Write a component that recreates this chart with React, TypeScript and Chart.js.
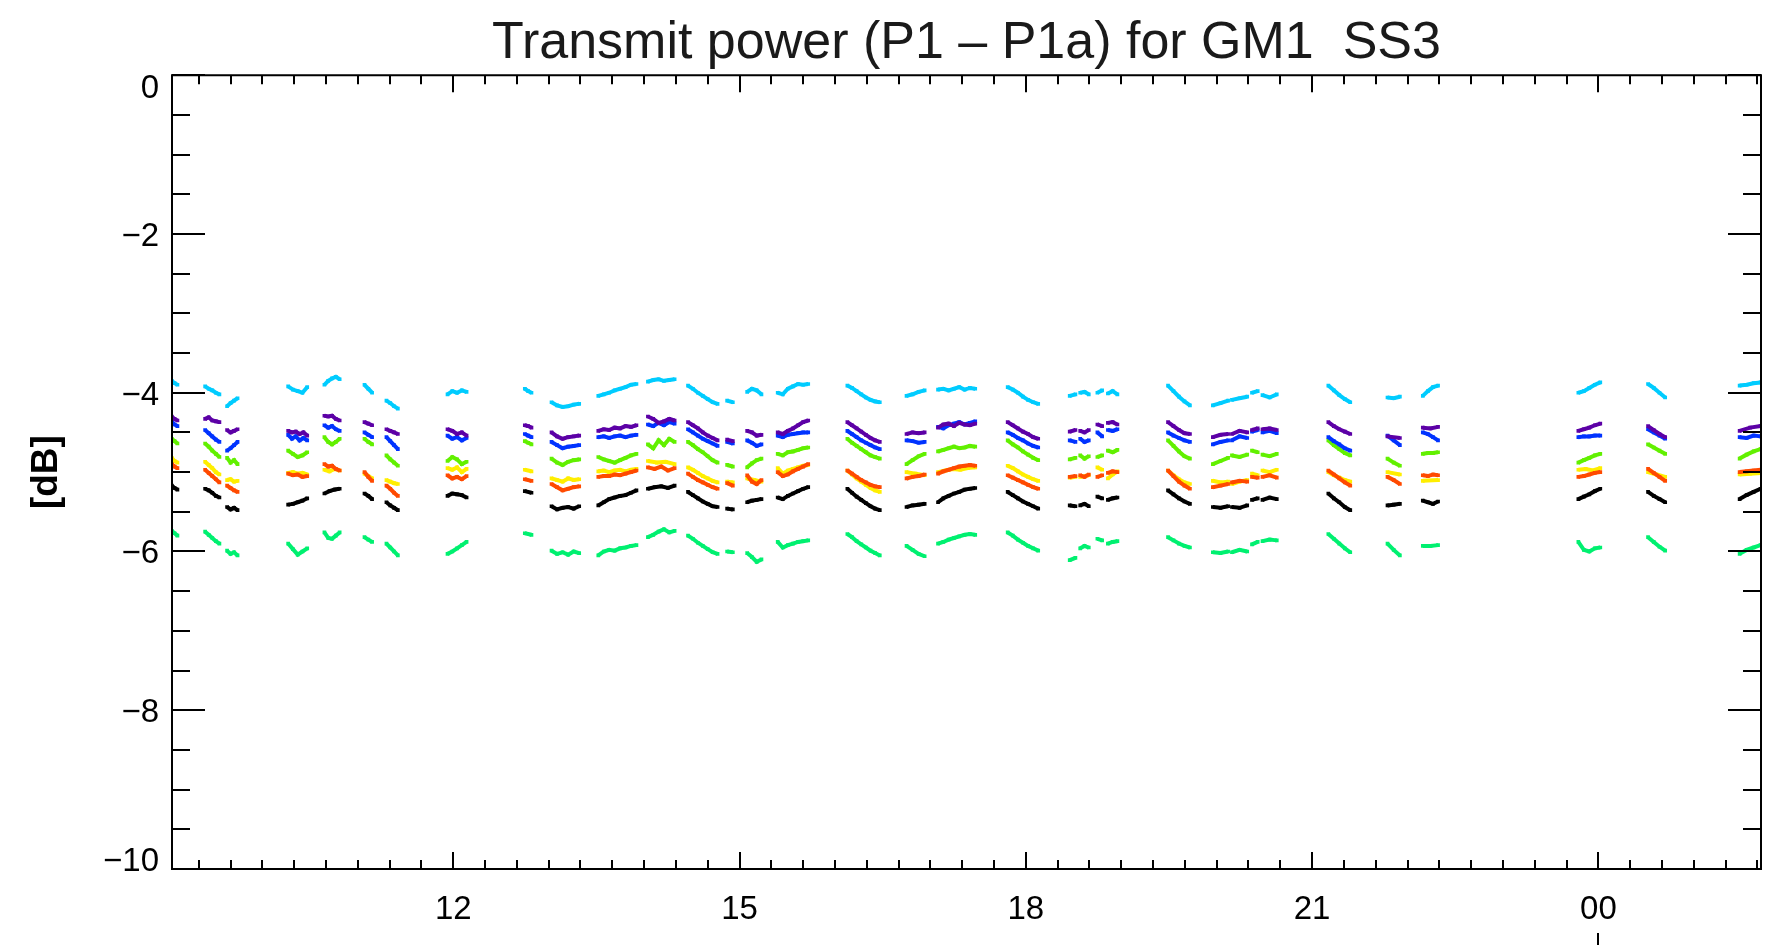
import React, { useEffect, useRef } from 'react';
import { Chart, registerables } from 'chart.js';

Chart.register(...registerables);

// ---------- text ----------
const chartTitle = 'Transmit power (P1 – P1a) for GM1  SS3';
const yAxisTitle = '[dB]';

// ---------- axes ----------
const xMinHour = 9.053;
const xMaxHour = 25.704;
const yMinDb = -10;
const yMaxDb = 0;
const xTickHours = [12, 15, 18, 21, 24];
const xTickLabels = ['12', '15', '18', '21', '00'];
const yTickValues = [0, -2, -4, -6, -8, -10];
const yTickLabels = ['0', '−2', '−4', '−6', '−8', '−10'];
const xMinorPerHour = 3; // minor ticks every 20 min
const xMajorEvery = 9; // major every 3 h (in minor steps)
const yMinorPerDb = 2; // minor ticks every 0.5 dB
const yMajorEvery = 4; // major every 2 dB (in minor steps)
const dateMarkHour = 24;

// ---------- passes (hours since start of day) ----------
const passStart = [9.05, 9.40, 9.63, 10.27, 10.65, 11.07, 11.30, 11.94, 12.75, 13.03, 13.52, 14.04, 14.46, 14.87, 15.08, 15.40, 16.13, 16.75, 17.08, 17.81, 18.46, 18.57, 18.75, 18.86, 19.49, 19.96, 20.16, 20.37, 20.48, 21.17, 21.79, 22.16, 23.79, 24.52, 25.48];
const passEnd = [9.11, 9.55, 9.74, 10.47, 10.81, 11.15, 11.42, 12.14, 12.82, 13.32, 13.92, 14.32, 14.77, 14.93, 15.23, 15.72, 16.47, 16.94, 17.47, 18.13, 18.52, 18.66, 18.80, 18.96, 19.72, 20.12, 20.32, 20.43, 20.63, 21.40, 21.92, 22.32, 24.02, 24.70, 25.70];

// ---------- series values per pass [dB] ----------
const cyanValues = [
  [-3.85, -3.88, -3.90], [-3.92, -3.95, -3.97, -4.00, -4.02], [-4.17, -4.13, -4.10, -4.07], [-3.92, -3.96, -3.98, -4.00, -3.93],
  [-3.90, -3.85, -3.82, -3.80, -3.83], [-3.90, -3.95, -4.00], [-4.10, -4.13, -4.17, -4.20], [-4.02, -3.98, -4.00, -3.97, -3.99],
  [-3.95, -3.98, -4.00], [-4.12, -4.16, -4.18, -4.17, -4.15, -4.14], [-4.04, -4.02, -4.00, -3.97, -3.95, -3.93, -3.90, -3.89],
  [-3.86, -3.84, -3.83, -3.85, -3.84, -3.83], [-3.91, -3.95, -4.00, -4.04, -4.08, -4.12, -4.14], [-4.10, -4.12],
  [-3.99, -3.95, -3.97, -4.02], [-4.00, -4.02, -3.95, -3.92, -3.89, -3.90, -3.89], [-3.91, -3.94, -3.98, -4.02, -4.06, -4.09, -4.11, -4.12],
  [-4.04, -4.02, -3.99, -3.97], [-3.96, -3.95, -3.97, -3.95, -3.93, -3.96, -3.94, -3.95], [-3.93, -3.96, -4.00, -4.05, -4.09, -4.12, -4.14],
  [-4.04, -4.02], [-4.00, -3.99, -4.02], [-4.00, -3.97], [-4.01, -3.98, -4.02], [-3.91, -3.98, -4.05, -4.11, -4.16],
  [-4.16, -4.13, -4.10], [-4.09, -4.07, -4.05], [-4.00, -3.98], [-4.03, -4.06, -4.02], [-3.91, -3.97, -4.03, -4.08, -4.12],
  [-4.06, -4.07, -4.05], [-4.04, -3.98, -3.93, -3.91], [-4.00, -3.98, -3.94, -3.90, -3.87], [-3.89, -3.94, -4.00, -4.06], [-3.91, -3.90, -3.88, -3.87],
];
const purpleValues = [
  [-4.30, -4.33, -4.35], [-4.33, -4.31, -4.35, -4.36, -4.37], [-4.47, -4.50, -4.48, -4.46], [-4.48, -4.50, -4.49, -4.52, -4.50, -4.54],
  [-4.29, -4.30, -4.29, -4.33, -4.35], [-4.37, -4.39, -4.41], [-4.46, -4.48, -4.50, -4.52], [-4.46, -4.48, -4.52, -4.50, -4.54],
  [-4.41, -4.42, -4.44], [-4.50, -4.55, -4.58, -4.56, -4.55, -4.54], [-4.48, -4.46, -4.47, -4.44, -4.45, -4.42, -4.43, -4.41],
  [-4.30, -4.33, -4.38, -4.36, -4.33, -4.35], [-4.37, -4.41, -4.45, -4.50, -4.54, -4.57, -4.60], [-4.59, -4.61],
  [-4.48, -4.50, -4.54, -4.53], [-4.50, -4.52, -4.48, -4.45, -4.41, -4.37, -4.35], [-4.37, -4.41, -4.45, -4.49, -4.53, -4.57, -4.60, -4.62],
  [-4.52, -4.50, -4.51, -4.50], [-4.44, -4.40, -4.39, -4.42, -4.38, -4.40, -4.41, -4.39], [-4.37, -4.41, -4.45, -4.49, -4.52, -4.56, -4.58],
  [-4.49, -4.47], [-4.48, -4.50, -4.47], [-4.40, -4.42], [-4.38, -4.37, -4.40], [-4.37, -4.42, -4.47, -4.51, -4.52],
  [-4.56, -4.53, -4.52], [-4.52, -4.48, -4.50], [-4.47, -4.45], [-4.46, -4.45, -4.47], [-4.37, -4.42, -4.46, -4.49, -4.52],
  [-4.55, -4.57], [-4.44, -4.45, -4.43], [-4.48, -4.46, -4.44, -4.41, -4.39], [-4.42, -4.47, -4.52, -4.56], [-4.48, -4.44, -4.42],
];
const blueValues = [
  [-4.36, -4.40, -4.42], [-4.47, -4.51, -4.55, -4.59, -4.62], [-4.73, -4.70, -4.66, -4.62], [-4.53, -4.58, -4.55, -4.60, -4.57, -4.60],
  [-4.41, -4.44, -4.42, -4.46, -4.48], [-4.50, -4.53, -4.56], [-4.56, -4.61, -4.66, -4.71], [-4.54, -4.58, -4.56, -4.60, -4.57],
  [-4.52, -4.54, -4.56], [-4.62, -4.66, -4.70, -4.68, -4.67, -4.66], [-4.56, -4.55, -4.57, -4.55, -4.54, -4.56, -4.54, -4.53],
  [-4.40, -4.42, -4.38, -4.41, -4.37, -4.39], [-4.46, -4.50, -4.54, -4.58, -4.61, -4.64, -4.67], [-4.62, -4.64],
  [-4.60, -4.63, -4.67, -4.65], [-4.54, -4.56, -4.53, -4.52, -4.51, -4.50, -4.50], [-4.48, -4.52, -4.56, -4.60, -4.63, -4.66, -4.69, -4.71],
  [-4.60, -4.61, -4.63, -4.62], [-4.43, -4.45, -4.41, -4.39, -4.37, -4.40, -4.38, -4.36], [-4.50, -4.53, -4.57, -4.60, -4.64, -4.67, -4.69],
  [-4.60, -4.62], [-4.58, -4.62, -4.60], [-4.50, -4.55], [-4.47, -4.48, -4.46], [-4.50, -4.54, -4.57, -4.60, -4.62],
  [-4.65, -4.62, -4.60], [-4.60, -4.55, -4.57], [-4.49, -4.47], [-4.50, -4.48, -4.51], [-4.56, -4.61, -4.65, -4.70, -4.73],
  [-4.54, -4.60, -4.66], [-4.50, -4.52, -4.56, -4.60], [-4.56, -4.55, -4.55, -4.54, -4.54], [-4.46, -4.50, -4.54, -4.58], [-4.56, -4.57, -4.54, -4.55],
];
const greenValues = [
  [-4.58, -4.61, -4.64], [-4.64, -4.68, -4.73, -4.77, -4.81], [-4.82, -4.88, -4.85, -4.90], [-4.73, -4.77, -4.81, -4.79, -4.75],
  [-4.56, -4.62, -4.65, -4.62, -4.58], [-4.58, -4.62, -4.65], [-4.79, -4.84, -4.88, -4.92], [-4.86, -4.81, -4.84, -4.90, -4.87],
  [-4.61, -4.63, -4.65], [-4.83, -4.88, -4.91, -4.87, -4.85, -4.84], [-4.81, -4.84, -4.86, -4.88, -4.85, -4.82, -4.79, -4.77],
  [-4.65, -4.70, -4.60, -4.66, -4.58, -4.62], [-4.62, -4.66, -4.71, -4.75, -4.80, -4.85, -4.88], [-4.91, -4.93],
  [-4.94, -4.89, -4.85, -4.83], [-4.77, -4.79, -4.75, -4.74, -4.72, -4.70, -4.69], [-4.58, -4.63, -4.67, -4.71, -4.75, -4.79, -4.81, -4.83],
  [-4.90, -4.85, -4.80, -4.77], [-4.74, -4.72, -4.70, -4.68, -4.70, -4.69, -4.67, -4.68], [-4.60, -4.65, -4.69, -4.74, -4.78, -4.82, -4.85],
  [-4.84, -4.82], [-4.79, -4.83, -4.80], [-4.81, -4.79], [-4.73, -4.75, -4.72], [-4.60, -4.67, -4.74, -4.80, -4.83],
  [-4.90, -4.86, -4.82], [-4.79, -4.81, -4.78], [-4.73, -4.75], [-4.78, -4.80, -4.77], [-4.60, -4.66, -4.71, -4.76, -4.79],
  [-4.83, -4.88, -4.92], [-4.77, -4.76, -4.76, -4.75], [-4.88, -4.85, -4.82, -4.79, -4.77], [-4.65, -4.69, -4.73, -4.77], [-4.83, -4.78, -4.74, -4.71],
];
const yellowValues = [
  [-4.82, -4.86, -4.88], [-4.87, -4.91, -4.95, -5.00, -5.03], [-5.10, -5.09, -5.12, -5.11], [-5.01, -5.00, -5.02, -5.01, -5.03],
  [-4.97, -4.99, -4.96, -4.98], [-5.02, -5.05, -5.08], [-5.10, -5.12, -5.14, -5.15], [-4.95, -4.97, -4.94, -5.00, -4.96],
  [-4.97, -4.99], [-5.08, -5.10, -5.12, -5.08, -5.10, -5.09], [-4.99, -4.98, -5.00, -4.98, -4.97, -4.99, -4.97, -4.96],
  [-4.86, -4.88, -4.87, -4.90], [-4.94, -4.97, -5.01, -5.05, -5.08, -5.11, -5.13], [-5.12, -5.13],
  [-5.08, -5.10, -5.12], [-4.95, -5.02, -4.98, -4.96, -4.94, -4.92, -4.91], [-4.98, -5.03, -5.08, -5.12, -5.16, -5.20, -5.23, -5.25],
  [-5.00, -5.02, -5.04], [-5.00, -4.98, -4.96, -4.97, -4.95, -4.94], [-4.92, -4.95, -4.99, -5.03, -5.06, -5.09, -5.11],
  [-5.07, -5.06], [-5.06, -5.04], [-4.94, -4.97], [-5.08, -5.03, -4.99], [-4.98, -5.04, -5.09, -5.13, -5.15],
  [-5.11, -5.13, -5.12], [-5.15, -5.12, -5.10], [-5.02, -5.04], [-4.98, -5.00, -4.97], [-5.00, -5.04, -5.07, -5.10, -5.12],
  [-5.00, -5.03], [-5.11, -5.10], [-4.97, -4.96, -4.98, -4.95], [-5.00, -5.03, -5.06], [-5.03, -5.02, -5.01],
];
const orangeValues = [
  [-4.90, -4.93, -4.95], [-4.97, -5.01, -5.05, -5.09, -5.13], [-5.17, -5.20, -5.23, -5.25], [-5.02, -5.04, -5.03, -5.06, -5.05],
  [-4.90, -4.93, -4.92, -4.96, -4.98], [-5.00, -5.06, -5.11], [-5.17, -5.21, -5.26, -5.30], [-5.04, -5.08, -5.06, -5.09, -5.05],
  [-5.09, -5.11], [-5.15, -5.19, -5.23, -5.21, -5.19, -5.18], [-5.06, -5.05, -5.05, -5.03, -5.04, -5.02, -5.00, -4.98],
  [-4.94, -4.96, -4.93, -4.98, -4.95], [-5.02, -5.06, -5.10, -5.13, -5.16, -5.19, -5.21], [-5.14, -5.17],
  [-5.04, -5.12, -5.15, -5.10], [-5.00, -5.05, -5.03, -4.99, -4.96, -4.93, -4.90], [-4.98, -5.02, -5.06, -5.10, -5.13, -5.16, -5.18, -5.19],
  [-5.08, -5.06, -5.05, -5.03], [-5.02, -4.99, -4.97, -4.95, -4.93, -4.92, -4.91, -4.92], [-5.04, -5.07, -5.10, -5.13, -5.16, -5.19, -5.21],
  [-5.06, -5.05], [-5.04, -5.06, -5.03], [-5.06, -5.04], [-5.01, -4.99, -5.00], [-4.98, -5.05, -5.12, -5.17, -5.21],
  [-5.19, -5.17, -5.15], [-5.13, -5.11, -5.12], [-5.06, -5.07], [-5.06, -5.04, -5.07], [-4.98, -5.03, -5.08, -5.13, -5.17],
  [-5.06, -5.10, -5.15], [-5.04, -5.05, -5.03, -5.04], [-5.06, -5.05, -5.03, -5.01, -5.00], [-4.96, -5.01, -5.06, -5.11], [-5.00, -4.99, -4.98, -4.97],
];
const blackValues = [
  [-5.17, -5.20, -5.22], [-5.21, -5.23, -5.26, -5.30, -5.32], [-5.44, -5.47, -5.45, -5.48], [-5.41, -5.40, -5.38, -5.36, -5.33],
  [-5.27, -5.24, -5.22, -5.21], [-5.27, -5.30, -5.34], [-5.38, -5.42, -5.45, -5.48], [-5.30, -5.27, -5.28, -5.29, -5.32],
  [-5.24, -5.26], [-5.43, -5.47, -5.45, -5.44, -5.46, -5.43], [-5.42, -5.38, -5.34, -5.32, -5.30, -5.29, -5.26, -5.23],
  [-5.21, -5.19, -5.18, -5.20, -5.17], [-5.25, -5.29, -5.33, -5.37, -5.40, -5.43, -5.44], [-5.46, -5.47],
  [-5.38, -5.36, -5.35, -5.34], [-5.32, -5.34, -5.30, -5.27, -5.24, -5.21, -5.19], [-5.21, -5.26, -5.31, -5.35, -5.39, -5.43, -5.46, -5.48],
  [-5.44, -5.42, -5.41, -5.40], [-5.38, -5.33, -5.30, -5.27, -5.25, -5.22, -5.21, -5.20], [-5.25, -5.29, -5.33, -5.37, -5.40, -5.43, -5.46],
  [-5.42, -5.43], [-5.42, -5.40, -5.43], [-5.31, -5.33], [-5.35, -5.33, -5.32], [-5.23, -5.28, -5.33, -5.37, -5.40],
  [-5.44, -5.45, -5.43], [-5.44, -5.45, -5.42], [-5.35, -5.33], [-5.35, -5.32, -5.34], [-5.27, -5.33, -5.38, -5.44, -5.48],
  [-5.42, -5.41, -5.40], [-5.36, -5.38, -5.40, -5.37], [-5.34, -5.31, -5.28, -5.24, -5.21], [-5.25, -5.30, -5.34, -5.38], [-5.34, -5.29, -5.25, -5.21],
];
const springValues = [
  [-5.74, -5.77, -5.80], [-5.75, -5.79, -5.83, -5.87, -5.90], [-5.99, -6.03, -6.01, -6.05], [-5.90, -5.97, -6.04, -6.00, -5.96],
  [-5.76, -5.83, -5.84, -5.80, -5.76], [-5.82, -5.85, -5.88], [-5.90, -5.95, -6.00, -6.05], [-6.03, -6.00, -5.96, -5.92, -5.88],
  [-5.77, -5.79], [-5.99, -6.03, -6.01, -6.04, -6.00, -6.02], [-6.05, -6.00, -5.98, -5.99, -5.96, -5.95, -5.93, -5.92],
  [-5.82, -5.79, -5.75, -5.72, -5.76, -5.74], [-5.80, -5.84, -5.89, -5.93, -5.97, -6.01, -6.03], [-6.00, -6.01],
  [-6.02, -6.07, -6.13, -6.10], [-5.88, -5.95, -5.92, -5.90, -5.88, -5.87, -5.86], [-5.78, -5.82, -5.87, -5.91, -5.95, -5.99, -6.02, -6.05],
  [-5.93, -5.98, -6.03, -6.06], [-5.90, -5.88, -5.85, -5.83, -5.81, -5.79, -5.78, -5.79], [-5.76, -5.80, -5.85, -5.89, -5.93, -5.96, -5.99],
  [-6.11, -6.08], [-5.96, -5.93, -5.95], [-5.84, -5.86], [-5.90, -5.88, -5.87], [-5.82, -5.86, -5.90, -5.93, -5.95],
  [-6.01, -6.02, -6.00], [-6.01, -5.98, -6.00], [-5.91, -5.88], [-5.87, -5.85, -5.86], [-5.78, -5.84, -5.90, -5.96, -6.01],
  [-5.90, -5.98, -6.05], [-5.93, -5.93, -5.92], [-5.88, -5.98, -6.00, -5.96, -5.95], [-5.82, -5.88, -5.94, -5.99], [-6.03, -5.98, -5.95, -5.92],
];

const seriesNames = ['cyan', 'purple', 'blue', 'green', 'orange', 'yellow', 'black', 'spring'];
const seriesValues = [cyanValues, purpleValues, blueValues, greenValues, orangeValues, yellowValues, blackValues, springValues];
const seriesColors = ['#00CCFF', '#5C00A6', '#0033FF', '#62F000', '#FF4A00', '#FFEE00', '#000000', '#00F070'];

function buildPoints(values: number[][]) {
  const pts: { x: number; y: number | null }[] = [];
  values.forEach((vals, p) => {
    const s = passStart[p];
    const e = passEnd[p];
    const n = vals.length;
    vals.forEach((v, i) => {
      pts.push({ x: n === 1 ? s : s + ((e - s) * i) / (n - 1), y: v });
    });
    pts.push({ x: e, y: null });
  });
  return pts;
}

const idlAxesPlugin = {
  id: 'idlAxes',
  afterDraw(chart: any) {
    const { ctx, chartArea, scales } = chart;
    const { left, right, top, bottom } = chartArea;
    const x = scales.x;
    const y = scales.y;
    ctx.save();
    ctx.strokeStyle = '#000';
    ctx.lineWidth = 2;
    ctx.beginPath();
    ctx.rect(left, top, right - left, bottom - top);
    // y ticks (left & right)
    for (let k = Math.ceil(yMinDb * yMinorPerDb); k <= Math.floor(yMaxDb * yMinorPerDb); k++) {
      const py = Math.round(y.getPixelForValue(k / yMinorPerDb));
      const len = k % yMajorEvery === 0 ? 33 : 18;
      ctx.moveTo(left, py);
      ctx.lineTo(left + len, py);
      ctx.moveTo(right, py);
      ctx.lineTo(right - len, py);
    }
    // x ticks (bottom & top)
    for (let k = Math.ceil(xMinHour * xMinorPerHour); k <= Math.floor(xMaxHour * xMinorPerHour); k++) {
      const px = Math.round(x.getPixelForValue(k / xMinorPerHour));
      const len = k % xMajorEvery === 0 ? 17 : 9;
      ctx.moveTo(px, bottom);
      ctx.lineTo(px, bottom - len);
      ctx.moveTo(px, top);
      ctx.lineTo(px, top + len);
    }
    // date boundary mark
    const dm = Math.round(x.getPixelForValue(dateMarkHour));
    ctx.moveTo(dm, bottom + 64);
    ctx.lineTo(dm, bottom + 76);
    ctx.stroke();

    ctx.fillStyle = '#000';
    ctx.font = '33px "Liberation Sans", Arial, sans-serif';
    ctx.textBaseline = 'alphabetic';
    ctx.textAlign = 'right';
    yTickValues.forEach((v, i) => {
      const py = y.getPixelForValue(v);
      let dy = 12;
      if (i === 0) dy = 23;
      if (i === yTickValues.length - 1) dy = 2;
      ctx.fillText(yTickLabels[i], left - 13, py + dy);
    });
    ctx.textAlign = 'center';
    xTickHours.forEach((h, i) => {
      ctx.fillText(xTickLabels[i], x.getPixelForValue(h), bottom + 50);
    });
    ctx.restore();
  },
};

export default function App() {
  const canvasRef = useRef<HTMLCanvasElement | null>(null);

  useEffect(() => {
    if (!canvasRef.current) return;
    const datasets = seriesValues.map((vals, i) => ({
      label: seriesNames[i],
      data: buildPoints(vals),
      borderColor: seriesColors[i],
      backgroundColor: seriesColors[i],
      pointBackgroundColor: seriesColors[i],
      borderWidth: 4,
      pointRadius: 2.6,
      pointBorderWidth: 0,
      pointStyle: 'rect' as const,
      spanGaps: false,
      tension: 0,
      showLine: true,
    }));
    const chart = new Chart(canvasRef.current, {
      type: 'line',
      data: { datasets },
      options: {
        animation: false,
        responsive: true,
        maintainAspectRatio: false,
        layout: { padding: { left: 0, right: 20, top: 0, bottom: 0 } },
        plugins: {
          legend: { display: false },
          tooltip: { enabled: false },
          title: {
            display: true,
            text: chartTitle,
            fullSize: false,
            color: '#1a1a1a',
            font: { family: '"Liberation Sans", Arial, sans-serif', size: 52, weight: 'normal', lineHeight: 1.1 },
            padding: { top: 15, bottom: 3 },
          },
        },
        scales: {
          x: {
            type: 'linear',
            min: xMinHour,
            max: xMaxHour,
            grid: { display: false },
            border: { display: false },
            ticks: { display: false },
            afterFit: (s: any) => {
              s.height = 76;
            },
          },
          y: {
            type: 'linear',
            min: yMinDb,
            max: yMaxDb,
            grid: { display: false },
            border: { display: false },
            ticks: { display: false },
            title: {
              display: true,
              text: yAxisTitle,
              color: '#000',
              font: { family: '"Liberation Sans", Arial, sans-serif', size: 37, weight: 'bold', lineHeight: 1.2 },
              padding: { top: 25, bottom: 0 },
            },
            afterFit: (s: any) => {
              s.width = 172;
            },
          },
        },
      },
      plugins: [idlAxesPlugin],
    });
    return () => chart.destroy();
  }, []);

  return (
    <div style={{ position: 'absolute', left: 0, top: 0, width: 1781, height: 945, background: '#fff' }}>
      <canvas ref={canvasRef} />
    </div>
  );
}
